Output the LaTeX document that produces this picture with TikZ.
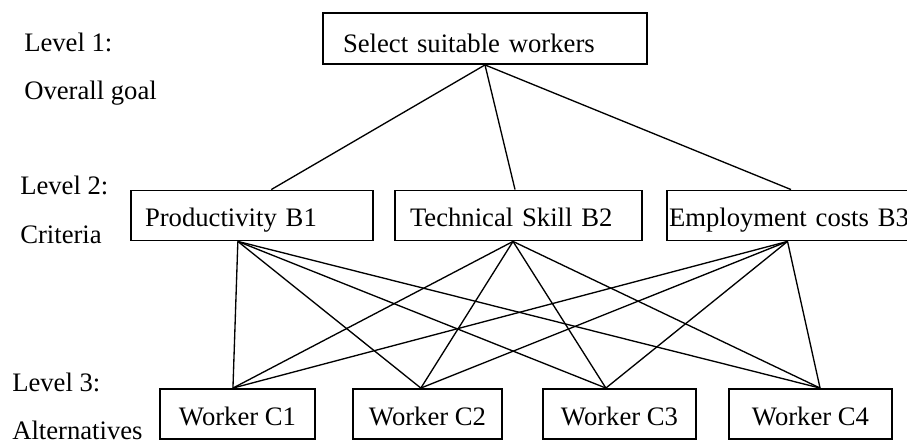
\documentclass[tikz,border=0pt]{standalone}
\usepackage{fontspec}
\setmainfont{Liberation Serif}
\usepackage{tikz}
\usetikzlibrary{positioning,calc}
\tikzset{
    levellabel/.style={anchor=base west, inner sep=0pt, font=\fontsize{20}{24}\selectfont},
    link/.style={draw=black, line width=1pt}
}

\begin{document}
\begin{tikzpicture}[
        x=0.75pt, y=-0.75pt,
        % --- STYLE CHUNG ---
        common/.style={
            rectangle,
            draw=black,
            line width=1.4pt,
            inner ysep=0pt,
            font=\fontsize{20}{24}\selectfont
        },
        % Hộp mục tiêu (Level 1)
        goal_node/.style={
            common,
            align=left,
            text height=30pt,
            text depth=8.25pt,
            inner xsep=15pt,
            text width=213pt
        },
        % Hộp tiêu chí (Level 2)
        crit_node/.style={
            common,
            align=left,
            text height=27pt,
            text depth=10.5pt
        },
        % Hộp phương án (Level 3)
        alt_node/.style={
            common,
            text height=27pt,
            text depth=10.5pt,
            inner xsep=0pt
        }
    ]

        \useasboundingbox (0,0) rectangle (907,445);

        % --- NHÃN CÁC MỨC ---
        \node[levellabel] (lv1)   at (24,52)  {Level 1:};
        \node[levellabel] (lv1b)  at (24,100) {Overall goal};
        \node[levellabel] (lv2)   at (20,195) {Level 2:};
        \node[levellabel] (lv2b)  at (20,244) {Criteria};
        \node[levellabel] (lv3)   at (12,392) {Level 3:};
        \node[levellabel] (lv3b)  at (12,439) {Alternatives};

        % --- MỤC TIÊU ---
        \node[goal_node] (goal) at (485,38.5) {Select suitable workers};

        % --- TIÊU CHÍ ---
        \node[crit_node, inner xsep=10.5pt, text width=160.5pt] (b1) at (252,215.5) {Productivity B1};
        \node[crit_node, inner xsep=11.25pt, text width=162.75pt] (b2) at (518.5,215.5) {Technical Skill B2};
        \node[crit_node, inner xsep=1.5pt, text width=181.5pt] (b3) at (790,215.5) {Employment costs B3};

        % --- PHƯƠNG ÁN ---
        \node[alt_node, minimum width=116.25pt] (c1) at (237.5,414) {Worker C1};
        \node[alt_node, minimum width=111.75pt] (c2) at (427.5,414) {Worker C2};
        \node[alt_node, minimum width=114.75pt] (c3) at (619.5,414) {Worker C3};
        \node[alt_node, minimum width=122.25pt] (c4) at (810.5,414) {Worker C4};

        % --- NỐI MỤC TIÊU VỚI TIÊU CHÍ ---
        \foreach \crit/\tf in {b1/0.579, b2/0.486, b3/0.504} {
            \draw[link] (goal.south) -- ($(\crit.north west)!\tf!(\crit.north east)$);
        }

        % --- NỐI TIÊU CHÍ VỚI PHƯƠNG ÁN ---
        \foreach \crit/\cf in {b1/0.442, b2/0.478, b3/0.49} {
            \foreach \alt/\af in {c1/0.471, c2/0.456, c3/0.412, c4/0.558} {
                \draw[link] ($(\crit.south west)!\cf!(\crit.south east)$)
                    -- ($(\alt.north west)!\af!(\alt.north east)$);
            }
        }

    \end{tikzpicture}
\end{document}
